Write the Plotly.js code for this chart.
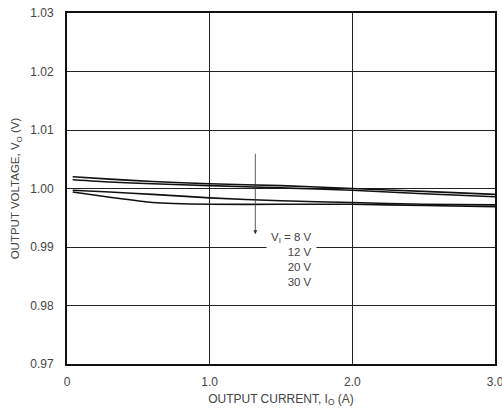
<!DOCTYPE html>
<html>
<head>
<meta charset="utf-8">
<script src="https://cdn.plot.ly/plotly-3.0.1.min.js"></script>
<style>html,body{margin:0;padding:0;background:#fff;}#chart{width:502px;height:409px;}</style>
</head>
<body>
<div id="chart"></div>
<script>
// Output current (A)
const currentA = [0.04, 0.3, 0.6, 1.0, 1.5, 2.0, 2.5, 3.0];
// Output voltage (V) for each input voltage
const v8V  = [1.0020, 1.0016, 1.0012, 1.0008, 1.0005, 1.0000, 0.9995, 0.9990];
const v12V = [1.0015, 1.0011, 1.0008, 1.0005, 1.0001, 0.9997, 0.9991, 0.9986];
const v20V = [0.9997, 0.9994, 0.9990, 0.9984, 0.9979, 0.9976, 0.9973, 0.9972];
const v30V = [0.9994, 0.9985, 0.9976, 0.9973, 0.9973, 0.9973, 0.9971, 0.9969];
const seriesNames = ['8 V', '12 V', '20 V', '30 V'];
const yTickVals = [0.97, 0.98, 0.99, 1.00, 1.01, 1.02, 1.03];
const xTickVals = [0, 1, 2, 3];
const xTickText = ['0', '1.0', '2.0', '3.0'];

const series = [v8V, v12V, v20V, v30V];
const traces = series.map((ys, i) => ({
  x: currentA, y: ys, type: 'scatter', mode: 'lines', name: seriesNames[i],
  line: {color: '#111', width: 1.6, shape: 'spline', smoothing: 0.6},
  hoverinfo: 'skip'
}));

const tickFont = {family: 'Liberation Sans, Arial, sans-serif', size: 12, color: '#444'};
const labelFont = {family: 'Liberation Sans, Arial, sans-serif', size: 11.5, color: '#444'};
const layout = {
  width: 502, height: 409,
  margin: {l: 67, r: 7, t: 13, b: 45},
  paper_bgcolor: '#fff', plot_bgcolor: '#fff',
  showlegend: false,
  font: tickFont,
  xaxis: {
    range: [0, 3], tickvals: xTickVals, ticktext: xTickText,
    showgrid: true, gridcolor: '#222', gridwidth: 1,
    showline: true, linecolor: '#111', linewidth: 2, mirror: true,
    ticks: '', zeroline: false, tickfont: tickFont, ticklabelstandoff: 6,
    ticklabeloverflow: 'allow',
    title: {text: 'OUTPUT CURRENT, I<sub>O</sub> (A)', font: tickFont, standoff: 6}
  },
  yaxis: {
    range: [0.97, 1.03], tickvals: yTickVals, tickformat: '.2f',
    showgrid: true, gridcolor: '#222', gridwidth: 1,
    showline: true, linecolor: '#111', linewidth: 2, mirror: true,
    ticks: '', zeroline: false, tickfont: tickFont, ticklabelstandoff: 9,
    ticklabeloverflow: 'allow',
    title: {text: 'OUTPUT VOLTAGE, V<sub>O</sub> (V)', font: labelFont, standoff: 8}
  },
  annotations: [
    {x: 1.32, y: 0.9922, ax: 1.32, ay: 1.0062, xref: 'x', yref: 'y', axref: 'x', ayref: 'y',
     text: '', showarrow: true, arrowhead: 2, arrowsize: 1, arrowwidth: 0.8, arrowcolor: '#333'},
    {x: 1.75, y: 0.9879, xref: 'x', yref: 'y', xanchor: 'right', yanchor: 'middle',
     text: 'V<sub>I</sub> = 8 V<br>12 V<br>20 V<br>30 V', align: 'right', showarrow: false,
     bgcolor: '#fff', borderpad: 4, font: labelFont}
  ]
};
Plotly.newPlot('chart', traces, layout, {staticPlot: true, displayModeBar: false});
</script>
</body>
</html>
